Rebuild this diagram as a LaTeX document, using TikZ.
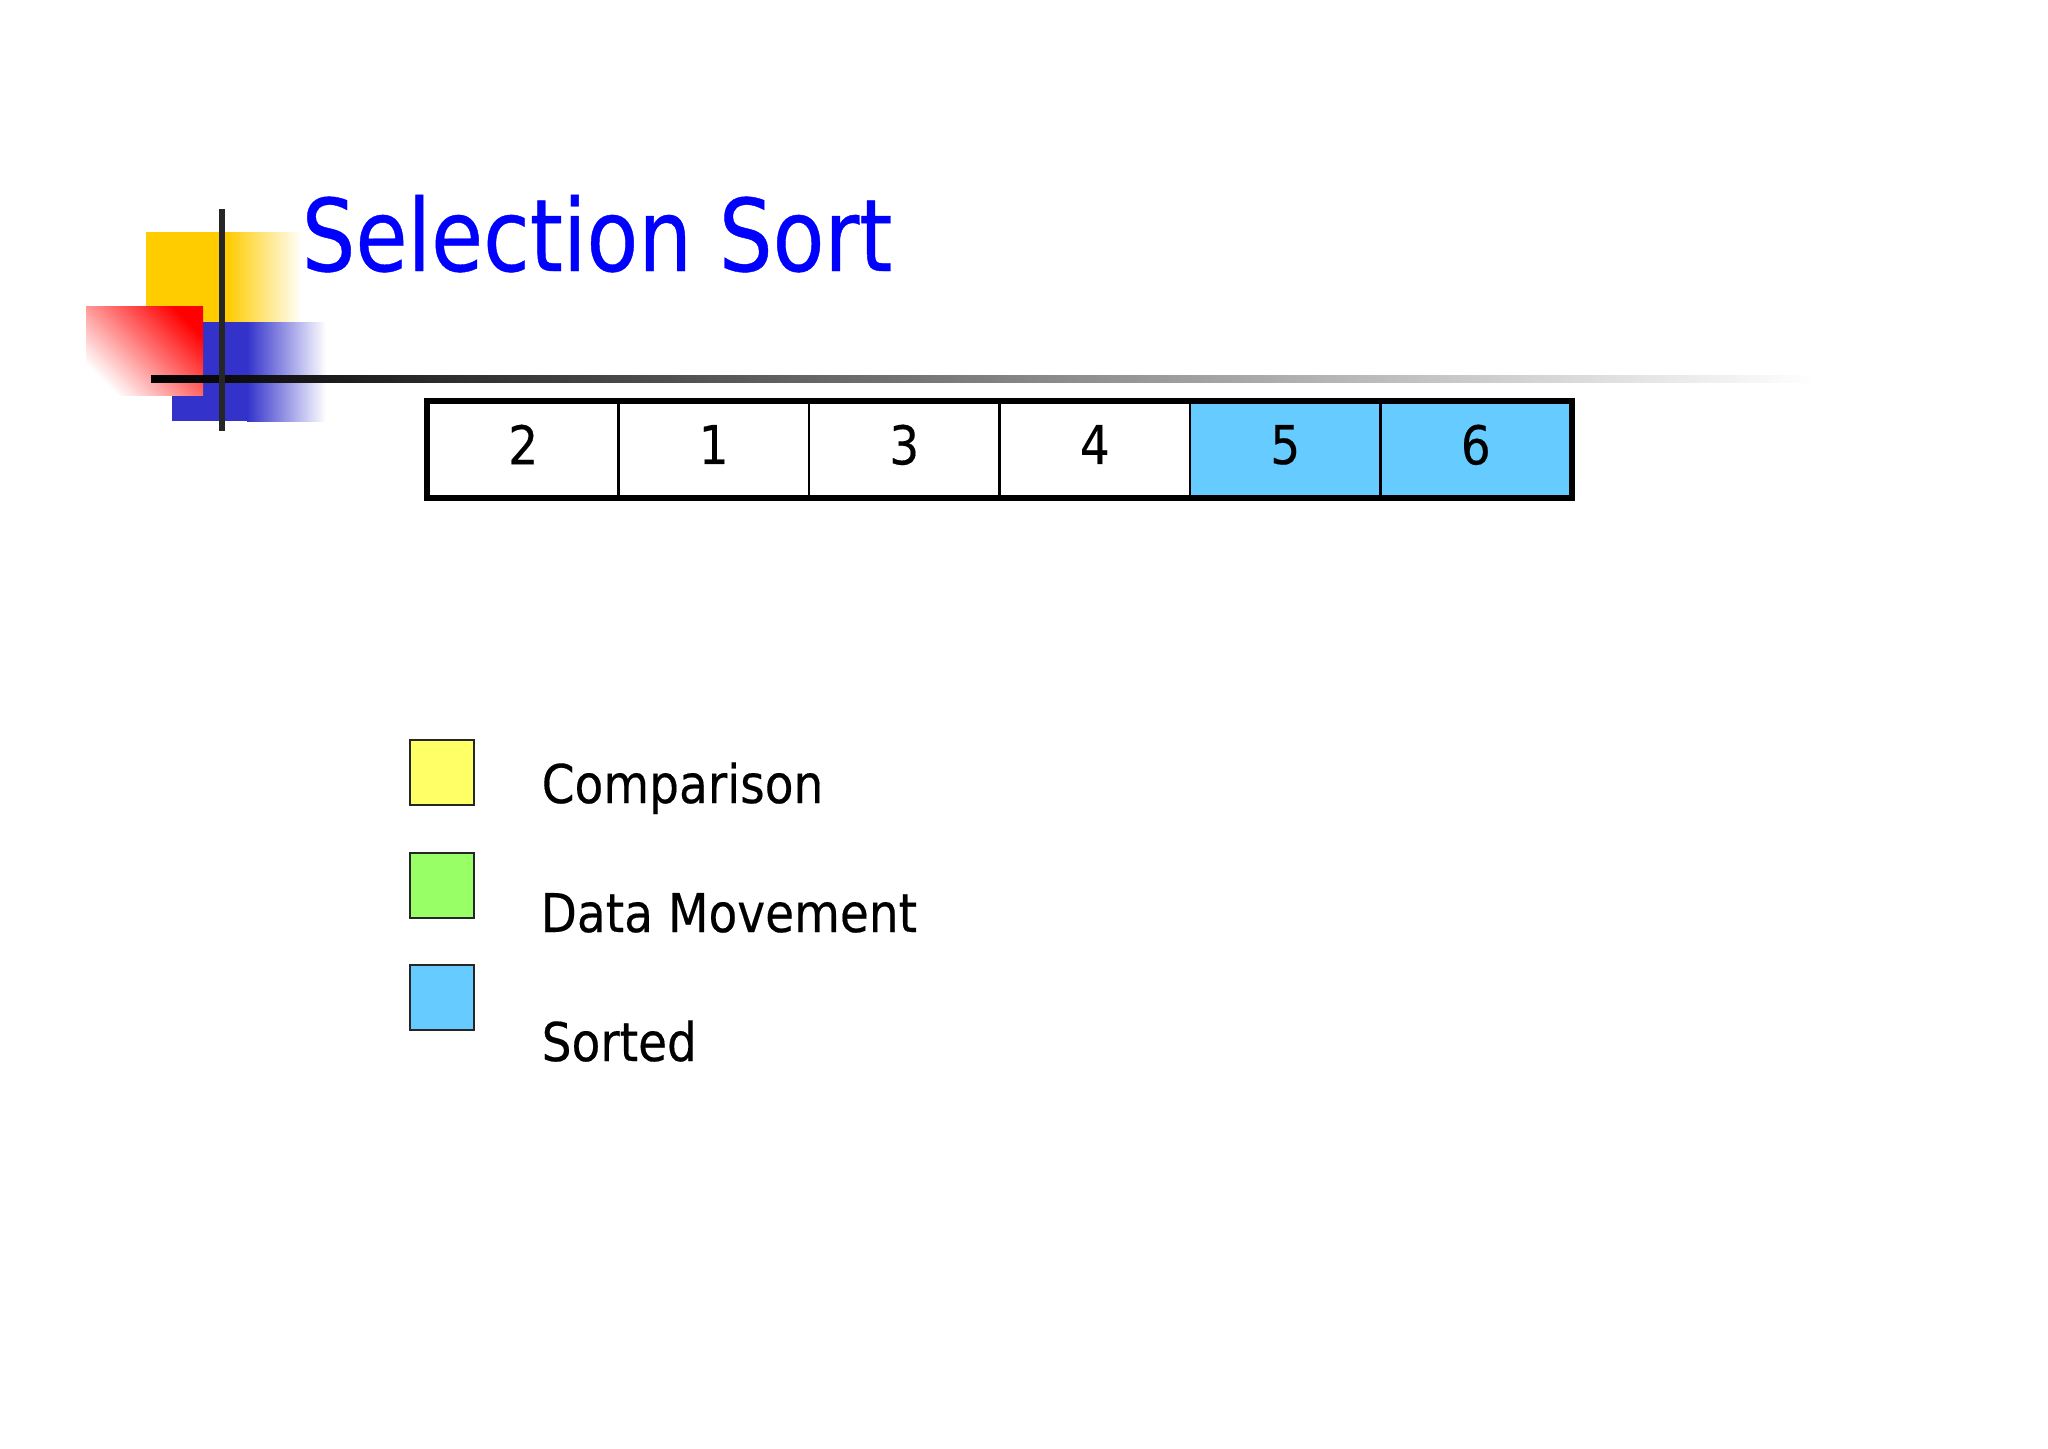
\documentclass[tikz,border=0pt]{standalone}
\usepackage{fontspec}
\newfontfamily\titlefont[FakeStretch=0.845,FakeBold=0.4]{DejaVu Sans}
\newfontfamily\bodyfont[FakeStretch=0.88,FakeBold=0.3]{DejaVu Sans}
\definecolor{sortblue}{HTML}{66CCFF}
\definecolor{cmpyellow}{HTML}{FFFF66}
\definecolor{movegreen}{HTML}{99FF66}
\definecolor{decoyellow}{HTML}{FFCC00}
\definecolor{decoblue}{HTML}{3333CC}
\definecolor{titleblue}{HTML}{0000FF}
\begin{document}
\begin{tikzpicture}[x=0.01cm,y=-0.01cm,
  cell/.style={draw=black, line width=0.6pt, minimum width=1.905cm, minimum height=0.95cm,
    inner sep=0pt, text depth=0.1cm, font=\bodyfont\fontsize{15.2}{18}\selectfont},
  legendbox/.style={draw=black!85, line width=0.6pt, minimum width=0.645cm, minimum height=0.65cm, inner sep=0pt},
  legendtext/.style={anchor=base west, inner sep=0pt, font=\bodyfont\fontsize{15.2}{18}\selectfont}]
\useasboundingbox (0,0) rectangle (2048,1448);
\fill[white] (0,0) rectangle (2048,1448);

% decoration
\fill[decoyellow] (146,232) rectangle (228,322);
\shade[left color=decoyellow, right color=white] (227,232) rectangle (302,322);
\fill[decoblue] (172,322) rectangle (248,421);
\shade[left color=decoblue, right color=white] (247,322) rectangle (326,421);
\shade[top color=red, bottom color=white, shading angle=-45] (86,306) rectangle (203,395);
\shade[left color=black, middle color=black!55, right color=white] (151,375.5) rectangle (1815,382.5);
\draw[line width=1.6pt, black!85] (222,209) -- (222,431);

% title
\node[anchor=base west, inner sep=0pt, text=titleblue, font=\titlefont\fontsize{28.5}{30}\selectfont] (title) at (301,271) {Selection Sort};

% array
\node[cell] (c1) at (523.25,449.5) {2};
\node[cell] (c2) at (713.75,449.5) {1};
\node[cell] (c3) at (904.25,449.5) {3};
\node[cell] (c4) at (1094.75,449.5) {4};
\node[cell, fill=sortblue] (c5) at (1285.25,449.5) {5};
\node[cell, fill=sortblue] (c6) at (1475.75,449.5) {6};
\draw[line width=1.5pt] (c1.north west) rectangle (c6.south east);

% legend
\node[legendbox, fill=cmpyellow] (lg1) at (442,772.5) {};
\node[legendbox, fill=movegreen] (lg2) at (442,885.5) {};
\node[legendbox, fill=sortblue] (lg3) at (442,997.5) {};
\node[legendtext] (lt1) at (541,803) {Comparison};
\node[legendtext] (lt2) at (540,932) {Data Movement};
\node[legendtext] (lt3) at (541,1061) {Sorted};
\end{tikzpicture}
\end{document}
